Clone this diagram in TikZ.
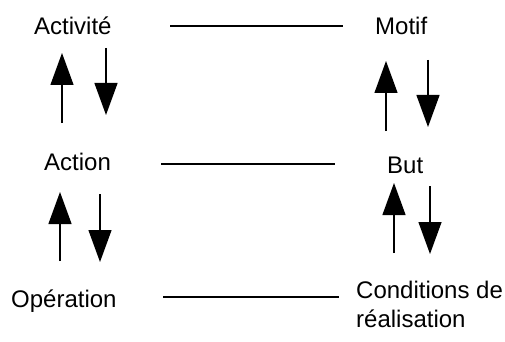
\documentclass[tikz,border=0pt]{standalone}
\usepackage{fontspec}
\setmainfont{Liberation Sans}
\usetikzlibrary{arrows.meta}
\begin{document}
\begin{tikzpicture}[x=1pt,y=-1pt,
  lbl/.style={anchor=base west,inner sep=0pt,font=\fontsize{24}{28}\selectfont},
  link/.style={line width=1.3pt},
  updown/.style={line width=1.3pt,-{Triangle[width=23pt,length=32pt]}}]
\useasboundingbox (0,0) rectangle (505,342);
% texts
\node[lbl] (act) at (34,35) {Activité};
\node[lbl] (mot) at (375,35) {Motif};
\node[lbl] (acn) at (44,170) {Action};
\node[lbl] (but) at (387,173) {But};
\node[lbl] (ope) at (11,307) {Opération};
\node[lbl] (cond) at (356,298) {Conditions de};
\node[lbl] (real) at (356,327) {réalisation};
% horizontal links
\coordinate (l1a) at (170,26); \coordinate (l1b) at (343,26);
\coordinate (l2a) at (161,164); \coordinate (l2b) at (335,164);
\coordinate (l3a) at (163,297); \coordinate (l3b) at (339,297);
\draw[link] (l1a) -- (l1b);
\draw[link] (l2a) -- (l2b);
\draw[link] (l3a) -- (l3b);
% arrows left
\coordinate (a1s) at (62,123); \coordinate (a1e) at (62,53);
\coordinate (a2s) at (106,48); \coordinate (a2e) at (106,115);
\coordinate (a3s) at (60,261); \coordinate (a3e) at (60,192);
\coordinate (a4s) at (100,194); \coordinate (a4e) at (100,262);
% arrows right
\coordinate (b1s) at (386,131); \coordinate (b1e) at (386,61);
\coordinate (b2s) at (428,60); \coordinate (b2e) at (428,127);
\coordinate (b3s) at (394,253); \coordinate (b3e) at (394,183);
\coordinate (b4s) at (430,186); \coordinate (b4e) at (430,254);
\foreach \p in {a1,a2,a3,a4,b1,b2,b3,b4}
  \draw[updown] (\p s) -- (\p e);
\end{tikzpicture}
\end{document}
